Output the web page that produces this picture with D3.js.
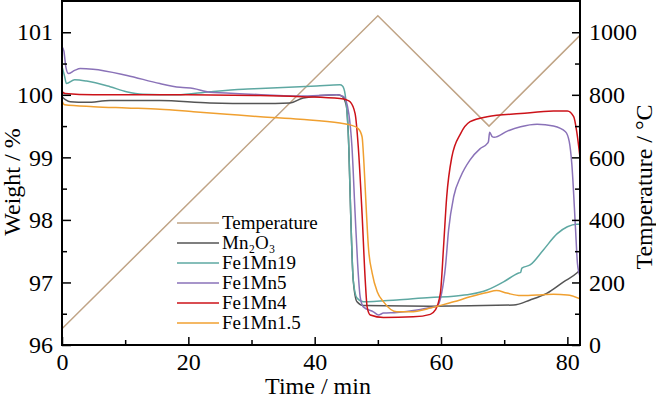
<!DOCTYPE html>
<html>
<head>
<meta charset="utf-8">
<script src="https://cdn.jsdelivr.net/npm/d3@7"></script>
<style>
  body { margin: 0; background: #fff; }
  svg text { font-family: "Liberation Serif", "Times New Roman", serif; }
</style>
</head>
<body>
<svg id="chart" width="656" height="398"></svg>
<script>
var xTicks = [0, 20, 40, 60, 80];
var wTicks = [96, 97, 98, 99, 100, 101];
var tTicks = [0, 200, 400, 600, 800, 1000];

var seriesNames = ["Temperature", "Mn\u2082O\u2083", "Fe1Mn19", "Fe1Mn5", "Fe1Mn4", "Fe1Mn1.5"];
var seriesColors = ["#c0a486", "#555555", "#5ea8a2", "#8a72b8", "#cc1219", "#f0a030"];

// temperature program, [min, degC]
var temperature = [[0, 52], [50, 1053], [67.6, 700], [82, 990]];

// weight curves, [min, %]
var mn2o3 = [[0, 99.97], [0.6, 99.92], [1.3, 99.89], [3.9, 99.88], [7.6, 99.91], [15.5, 99.91],
  [23.4, 99.87], [31.4, 99.86], [36.1, 99.87], [38.2, 99.95], [43.5, 100.0], [44.3, 99.98],
  [45, 99.83], [45.4, 99.17], [45.7, 98.1], [46.1, 97.04], [46.7, 96.69], [47.7, 96.63],
  [58.3, 96.62], [71.5, 96.64], [74.1, 96.72], [76.8, 96.83], [79.4, 97.01], [81.5, 97.15], [82, 97.2]];

var fe1mn19 = [[0, 100.45], [0.4, 100.3], [0.7, 100.18], [2, 100.24], [3.9, 100.22], [7.6, 100.13],
  [10.2, 100.05], [12.8, 100.01], [18.2, 100.0], [23.4, 100.05], [28.7, 100.09], [31.4, 100.1],
  [40.3, 100.14], [44.0, 100.16], [44.4, 100.14], [44.8, 100.02], [45.4, 99.17], [45.7, 98.1],
  [46.1, 97.04], [46.7, 96.75], [47.7, 96.69], [53, 96.72], [58.3, 96.76], [62, 96.78],
  [64.6, 96.81], [67.3, 96.88], [69.9, 97.01], [72.3, 97.15], [72.6, 97.16], [72.8, 97.23],
  [74.1, 97.28], [76.2, 97.52], [78.4, 97.78], [80, 97.89], [81.5, 97.93], [82, 97.93]];

var fe1mn5 = [[0, 100.77], [0.3, 100.7], [0.6, 100.45], [1.0, 100.34], [2.0, 100.39], [2.9, 100.42],
  [4.9, 100.41], [10.3, 100.31], [15.5, 100.18], [18.7, 100.12], [20.8, 100.1], [23.4, 100.04],
  [26, 100.03], [29.8, 100.01], [37.7, 99.98], [43.5, 100.0], [44.6, 99.97], [45.4, 99.7],
  [45.9, 99.17], [46.4, 98.1], [46.8, 97.3], [47.2, 96.77], [47.7, 96.61], [49.3, 96.53],
  [50.1, 96.48], [50.9, 96.51], [53, 96.52], [56.2, 96.56], [58.3, 96.6], [59.4, 96.62],
  [60.1, 96.83], [60.7, 97.25], [61.2, 97.84], [62, 98.37], [63.1, 98.69], [64.6, 98.96],
  [66.2, 99.14], [67.3, 99.22], [67.5, 99.25], [67.7, 99.4], [68.1, 99.33], [68.4, 99.32],
  [70.5, 99.42], [72.6, 99.49], [75.2, 99.53], [77.8, 99.5], [79.7, 99.41], [80.3, 99.25],
  [80.7, 98.9], [81.3, 97.84], [81.6, 97.3], [82, 97.1]];

var fe1mn4 = [[0, 100.05], [0.5, 100.02], [5, 100.0], [20, 100.0], [31.4, 99.99], [38, 99.97],
  [44.0, 99.94], [45.0, 99.92], [45.6, 99.89], [46.4, 99.7], [46.9, 99.17], [47.5, 98.1],
  [48, 97.04], [48.3, 96.61], [48.8, 96.48], [50.9, 96.44], [55.6, 96.45], [58.3, 96.49],
  [59.1, 96.56], [59.9, 96.83], [60.4, 97.57], [60.9, 98.37], [61.7, 99.0], [63.1, 99.38],
  [64.6, 99.57], [67.3, 99.65], [72.6, 99.7], [77.8, 99.74], [80, 99.74], [81, 99.65],
  [81.5, 99.4], [82, 99.0]];

var fe1mn15 = [[0, 99.9], [0.4, 99.84], [5, 99.81], [10.2, 99.79], [15.5, 99.77], [20.8, 99.73],
  [26.1, 99.69], [31.4, 99.65], [37.7, 99.61], [44, 99.55], [45.6, 99.52], [46.9, 99.46],
  [47.5, 99.33], [47.8, 98.9], [48.2, 98.1], [48.5, 97.57], [49.1, 97.15], [49.9, 96.85],
  [50.9, 96.69], [53, 96.53], [55.1, 96.53], [58.3, 96.59], [59.4, 96.62], [62, 96.69],
  [64.6, 96.77], [67.3, 96.84], [68.8, 96.87], [70.4, 96.83], [72.6, 96.79], [75.2, 96.8],
  [77.8, 96.81], [80, 96.8], [82, 96.74]];

var weightSeries = [mn2o3, fe1mn19, fe1mn5, fe1mn4, fe1mn15];

var margin = {left: 62, right: 76, top: 1, bottom: 53};
var width = 656, height = 398;
var svg = d3.select("#chart");

var x = d3.scaleLinear().domain([0, 82]).range([margin.left, width - margin.right]);
var yW = d3.scaleLinear().domain([96, 101.5]).range([height - margin.bottom, margin.top]);
var yT = d3.scaleLinear().domain([0, 1100]).range([height - margin.bottom, margin.top]);

var plot = svg.append("g");
svg.append("clipPath").attr("id", "clip").append("rect")
    .attr("x", margin.left).attr("y", margin.top)
    .attr("width", x.range()[1] - margin.left).attr("height", yW.range()[0] - margin.top);
plot.attr("clip-path", "url(#clip)");

var lineT = d3.line().x(function(d) { return x(d[0]); }).y(function(d) { return yT(d[1]); });
var lineW = d3.line().curve(d3.curveMonotoneX)
    .x(function(d) { return x(d[0]); }).y(function(d) { return yW(d[1]); });

plot.append("path").datum(temperature)
    .attr("d", lineT).attr("fill", "none")
    .attr("stroke", seriesColors[0]).attr("stroke-width", 1.5);

weightSeries.forEach(function(s, i) {
  plot.append("path").datum(s)
      .attr("d", lineW).attr("fill", "none")
      .attr("stroke", seriesColors[i + 1]).attr("stroke-width", 1.5);
});

// axes, ticks inward
var tickFont = 24;
var plain = d3.format("d");
function styleAxis(g) {
  g.select(".domain").remove();
  g.selectAll("line").attr("stroke", "#000").attr("stroke-width", 1.5);
  g.selectAll("text").attr("font-size", tickFont).attr("fill", "#000");
}

var bottom = yW.range()[0];
svg.append("g").attr("transform", "translate(0," + bottom + ")")
    .call(d3.axisBottom(x).tickValues(xTicks).tickSizeInner(-8).tickSizeOuter(0).tickPadding(8).tickFormat(plain))
    .call(styleAxis);
svg.append("g").attr("transform", "translate(0," + bottom + ")")
    .call(d3.axisBottom(x).tickValues([10, 30, 50, 70]).tickSizeInner(-5).tickSizeOuter(0).tickFormat(""))
    .call(styleAxis);

svg.append("g").attr("transform", "translate(" + margin.left + ",0)")
    .call(d3.axisLeft(yW).tickValues(wTicks).tickSizeInner(-9).tickSizeOuter(0).tickPadding(9).tickFormat(plain))
    .call(styleAxis);
svg.append("g").attr("transform", "translate(" + margin.left + ",0)")
    .call(d3.axisLeft(yW).tickValues([96.5, 97.5, 98.5, 99.5, 100.5]).tickSizeInner(-5).tickSizeOuter(0).tickFormat(""))
    .call(styleAxis);

var right = x.range()[1];
svg.append("g").attr("transform", "translate(" + right + ",0)")
    .call(d3.axisRight(yT).tickValues(tTicks).tickSizeInner(-8).tickSizeOuter(0).tickPadding(9).tickFormat(plain))
    .call(styleAxis);
svg.append("g").attr("transform", "translate(" + right + ",0)")
    .call(d3.axisRight(yT).tickValues([100, 300, 500, 700, 900]).tickSizeInner(-5).tickSizeOuter(0).tickFormat(""))
    .call(styleAxis);

// frame
svg.append("rect")
    .attr("x", margin.left).attr("y", margin.top)
    .attr("width", right - margin.left).attr("height", bottom - margin.top)
    .attr("fill", "none").attr("stroke", "#000").attr("stroke-width", 2);

// axis titles
var titleFont = 24;
svg.append("text").attr("x", 318).attr("y", 394)
    .attr("text-anchor", "middle").attr("font-size", titleFont).text("Time / min");
svg.append("text").attr("transform", "translate(20,182) rotate(-90)")
    .attr("text-anchor", "middle").attr("font-size", titleFont).text("Weight / %");
svg.append("text").attr("transform", "translate(652,187) rotate(-90)")
    .attr("text-anchor", "middle").attr("font-size", titleFont).text("Temperature / \u00b0C");

// legend
var legend = svg.append("g").attr("transform", "translate(177,223)");
seriesNames.forEach(function(name, i) {
  var row = legend.append("g").attr("transform", "translate(0," + i * 20 + ")");
  row.append("line").attr("x1", 0).attr("x2", 42)
      .attr("stroke", seriesColors[i]).attr("stroke-width", 1.5);
  row.append("text").attr("x", 45).attr("y", 6)
      .attr("font-size", 19).text(name);
});
</script>
</body>
</html>
